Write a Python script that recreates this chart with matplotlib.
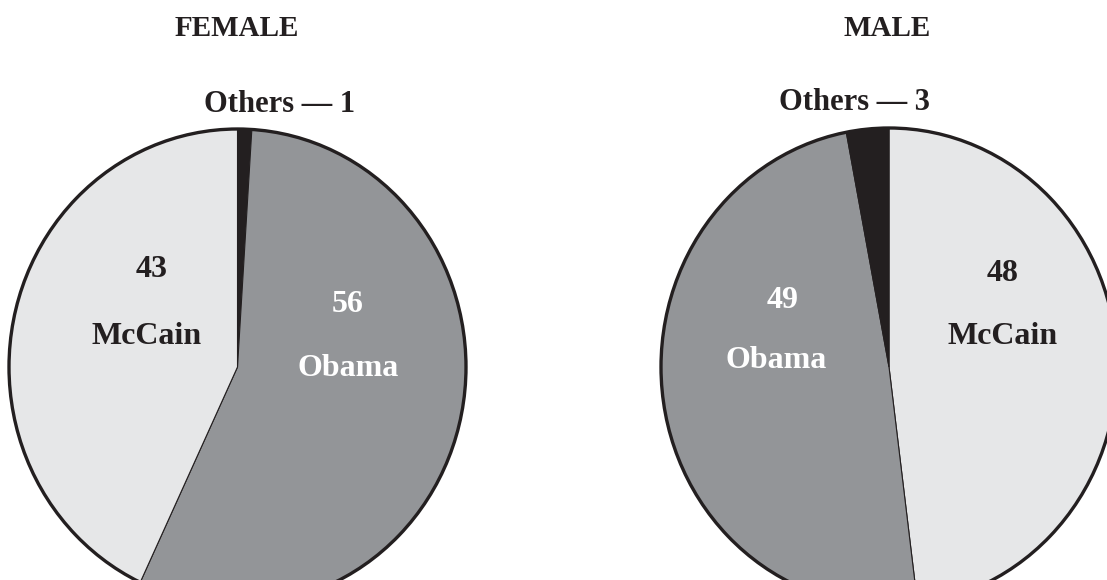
import matplotlib.pyplot as plt
from matplotlib.patches import Circle

W, H = 1107, 580

groups = ["FEMALE", "MALE"]
female_labels = ["Others", "Obama", "McCain"]
female_values = [1, 56, 43]
male_labels = ["McCain", "Obama", "Others"]
male_values = [48, 49, 3]
colors = {"McCain": "#e6e7e8", "Obama": "#939598", "Others": "#231f20"}
text_colors = {"McCain": "#231f20", "Obama": "white"}

plt.rcParams['font.family'] = ['Liberation Serif', 'DejaVu Serif']


def px(x, y):
    return x / W, 1 - y / H


fig = plt.figure(figsize=(W / 100, H / 100), dpi=100)

# pie boxes in pixels: center x, center y, radius x, radius y
boxes = [(237.5, 367, 228.5, 238), (889, 367, 228, 239)]
# label anchors in pixels (value, name) per party
label_pos = [
    {"McCain": (152, 270, 147, 337), "Obama": (348, 305, 348, 368)},
    {"Obama": (783, 300, 776, 361), "McCain": (1003, 274, 1003, 336)},
]
others_pos = [(280, 105), (854, 103)]
title_pos = [(237, 28), (887, 28)]

for i, (labels, values) in enumerate([(female_labels, female_values), (male_labels, male_values)]):
    cx, cy, rx, ry = boxes[i]
    ax = fig.add_axes([(cx - rx) / W, 1 - (cy + ry) / H, 2 * rx / W, 2 * ry / H])
    wedges, _ = ax.pie(values, colors=[colors[l] for l in labels], startangle=90,
                       counterclock=False,
                       wedgeprops=dict(edgecolor="#231f20", linewidth=0.8))
    for w in wedges:
        w.set_clip_on(False)
    ax.add_patch(Circle((0, 0), 1, fill=False, edgecolor="#231f20", linewidth=2.4, clip_on=False))
    ax.set_aspect('auto')
    ax.set_xlim(-1, 1)
    ax.set_ylim(-1, 1)
    ax.axis('off')

    fig.text(*px(*title_pos[i]), groups[i], ha='center', va='center',
             fontsize=21, fontweight='bold', color="#231f20")
    for lab, val in zip(labels, values):
        if lab == "Others":
            fig.text(*px(*others_pos[i]), f"Others \u2014 {val}", ha='center', va='center',
                     fontsize=22, fontweight='bold', color="#231f20")
        else:
            vx, vy, nx, ny = label_pos[i][lab]
            fig.text(*px(vx, vy), str(val), ha='center', va='center',
                     fontsize=23, fontweight='bold', color=text_colors[lab])
            fig.text(*px(nx, ny), lab, ha='center', va='center',
                     fontsize=23, fontweight='bold', color=text_colors[lab])

fig.savefig("out.png", dpi=100, facecolor="white")
